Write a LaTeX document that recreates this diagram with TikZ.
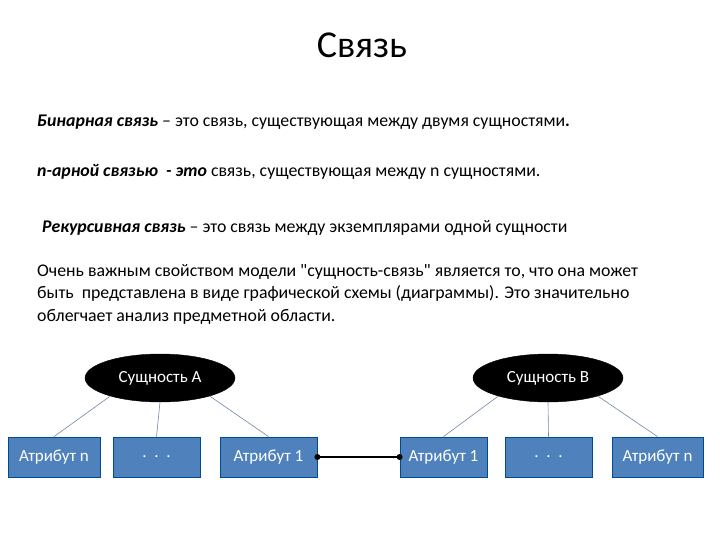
\documentclass[tikz,border=0pt]{standalone}
\usepackage{fontspec}
\setmainfont{Carlito}
\usetikzlibrary{shapes.geometric}
\begin{document}
\begin{tikzpicture}[x=1pt,y=-1pt,
  attr/.style={draw=blue!40!black!70!cyan, line width=0.8pt, fill={rgb,255:red,79;green,129;blue,189}, text=white, minimum height=40pt, inner sep=0pt, font=\fontsize{17}{19}\selectfont},
  ent/.style={ellipse, fill=black, draw=black, text=white, minimum width=150pt, minimum height=48pt, inner sep=0pt, font=\fontsize{17}{19}\selectfont},
  link/.style={draw={rgb,255:red,110;green,135;blue,165}, line width=0.6pt},
  txt/.style={anchor=west, inner sep=0pt, font=\fontsize{17.8}{22.5}\selectfont}]
\useasboundingbox (0,0) rectangle (720,540);
\node[font=\fontsize{38}{42}\selectfont] (title) at (362,45) {Связь};
\node[txt] (t1) at (37,122) {\textbf{\textit{Бинарная связь}} – это связь, существующая между двумя сущностями\textbf{.}};
\node[txt] (t2) at (37,172) {\textbf{\textit{n-арной связью}} \textbf{\textit{ - это}} связь, существующая между n сущностями.};
\node[txt] (t3) at (42,228) {\textbf{\textit{Рекурсивная связь}} – это связь между экземплярами одной сущности};
\node[txt, align=left, anchor=north west] (t4) at (37,264) {Очень важным свойством модели \textquotedbl сущность-связь\textquotedbl{} является то, что она может\\быть \ представлена в виде графической схемы (диаграммы). Это значительно\\облегчает анализ предметной области.};
\node[ent] (A) at (160,378) {Сущность А};
\node[ent] (B) at (548,378) {Сущность В};
\node[attr, minimum width=92pt] (a1) at (54,457) {Атрибут n};
\node[attr, minimum width=87pt] (a2) at (156.5,457) {.\ \ .\ \ .};
\node[attr, minimum width=97pt] (a3) at (268.5,457) {Атрибут 1};
\node[attr, minimum width=87pt] (b1) at (443.5,457) {Атрибут 1};
\node[attr, minimum width=87pt] (b2) at (548.5,457) {.\ \ .\ \ .};
\node[attr, minimum width=91pt] (b3) at (657.5,457) {Атрибут n};
\draw[link] (A.-160) -- (a1.north);
\draw[link] (A.south) -- (a2.north);
\draw[link] (A.-20) -- (a3.north);
\draw[link] (B.-160) -- (b1.north);
\draw[link] (B.south) -- (b2.north);
\draw[link] (B.-20) -- (b3.north);
\draw[line width=2pt] (a3.east) -- (b1.west);
\fill (a3.east) circle (3pt);
\fill (b1.west) circle (3pt);
\end{tikzpicture}
\end{document}
